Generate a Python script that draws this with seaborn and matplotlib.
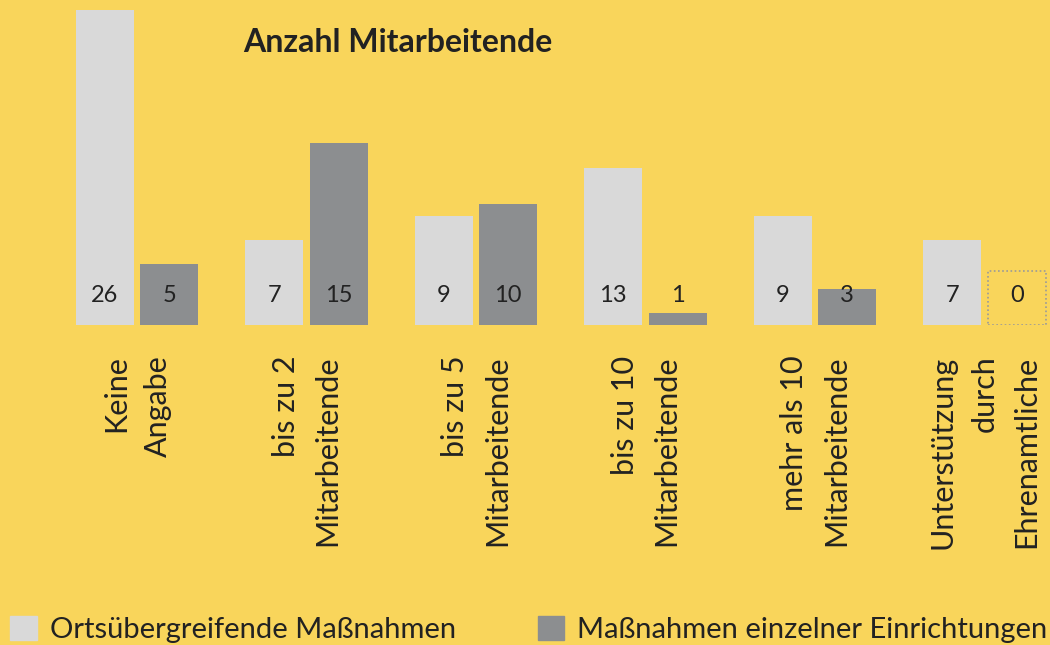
import matplotlib
matplotlib.use("Agg")
import matplotlib.pyplot as plt
import matplotlib.transforms as mtransforms
from matplotlib.patches import Rectangle
import seaborn as sns
import pandas as pd

# ---- data ----
categories = ["Keine\nAngabe", "bis zu 2\nMitarbeitende", "bis zu 5\nMitarbeitende",
              "bis zu 10\nMitarbeitende", "mehr als 10\nMitarbeitende",
              "Unterstützung\ndurch\nEhrenamtliche"]
series_names = ["Ortsübergreifende Maßnahmen", "Maßnahmen einzelner Einrichtungen"]
ortsuebergreifend = [26, 7, 9, 13, 9, 7]
einzelne = [5, 15, 10, 1, 3, 0]
title = "Anzahl Mitarbeitende"

BG = "#F9D55B"
LIGHT = "#D9D9D9"
DARK = "#8C8E90"
TXT = "#222222"

df = pd.DataFrame({
    "cat": categories * 2,
    "val": ortsuebergreifend + einzelne,
    "series": [series_names[0]] * len(categories) + [series_names[1]] * len(categories),
})

sns.set_style("white")
plt.rcParams["font.family"] = ["Lato", "DejaVu Sans"]

fig = plt.figure(figsize=(10.5, 6.45), dpi=100, facecolor=BG)
ax = fig.add_axes([0, 1 - 325 / 645, 1, 325 / 645])
ax.set_facecolor(BG)

sns.barplot(data=df, x="cat", y="val", hue="series", order=categories,
            hue_order=series_names, palette=[LIGHT, DARK], saturation=1,
            width=0.76, gap=0.1, ax=ax, legend=False, errorbar=None,
            linewidth=0, edgecolor="none")

ax.set_xlim(-0.808, 5.386)
ax.set_ylim(0, 26.85)
for s in ax.spines.values():
    s.set_visible(False)
ax.set_yticks([])
ax.set_xlabel("")
ax.set_ylabel("")
ax.tick_params(axis="x", length=0, pad=22, labelsize=22, labelcolor=TXT)
for lab in ax.get_xticklabels():
    lab.set_rotation(90)
    lab.set_multialignment("right")
    lab.set_linespacing(1.6)

blend = mtransforms.blended_transform_factory(ax.transData, ax.transAxes)
for cont in ax.containers:
    for bar in cont:
        h = bar.get_height()
        xc = bar.get_x() + bar.get_width() / 2
        ax.annotate(f"{h:g}", xy=(xc, 0), xytext=(0, 21.5), textcoords="offset points",
                    ha="center", va="center", fontsize=17, color=TXT)
        if h == 0:
            ax.add_patch(Rectangle((bar.get_x(), 0), bar.get_width(), 54 / 325,
                                   transform=blend, fill=False, ec="#9a9a9a",
                                   ls=(0, (1, 1.5)), lw=1.2))

fig.text(243 / 1050, 1 - 42 / 645, title, fontsize=23, fontweight="bold",
         color=TXT, ha="left", va="center")

handles = [Rectangle((0, 0), 1, 1, color=LIGHT), Rectangle((0, 0), 1, 1, color=DARK)]
fig.legend(handles, series_names, loc="lower left", bbox_to_anchor=(-0.004, -0.02),
           ncol=2, frameon=False, fontsize=21, handlelength=0.9, handleheight=0.9,
           handletextpad=0.45, columnspacing=2.8, borderaxespad=0.2, labelcolor=TXT,
           borderpad=0.3)

fig.savefig("out.png", dpi=100, facecolor=BG)
